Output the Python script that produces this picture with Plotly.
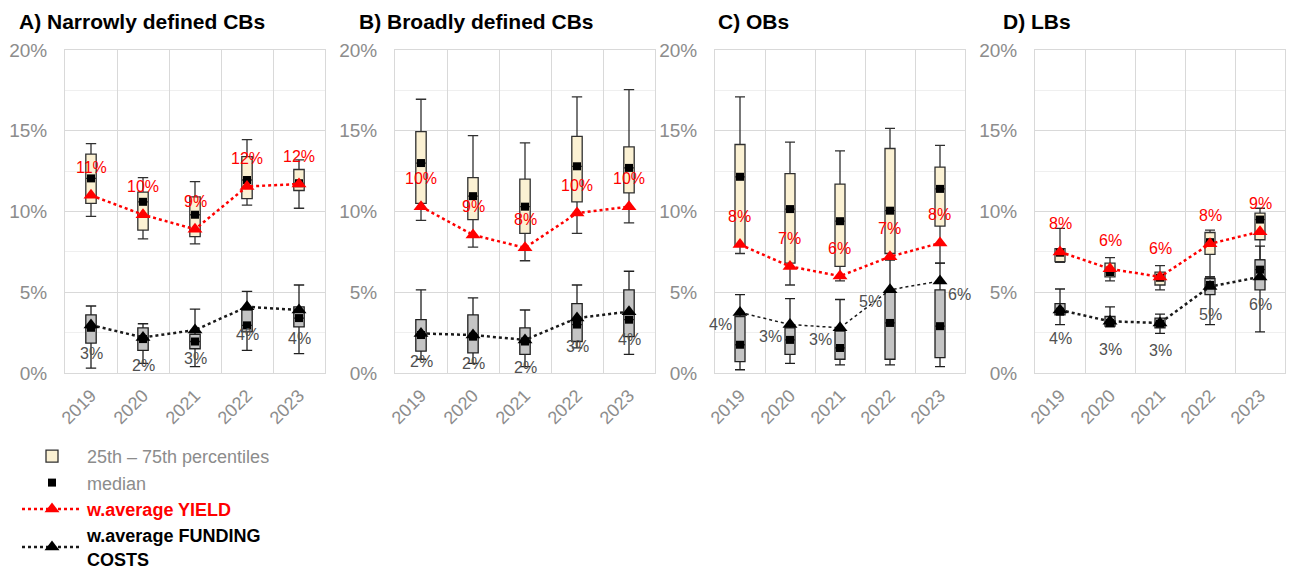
import plotly.graph_objects as go
from plotly.subplots import make_subplots

years = ["2019", "2020", "2021", "2022", "2023"]
panel_titles = ["A) Narrowly defined CBs", "B) Broadly defined CBs", "C) OBs", "D) LBs"]

# ---- Panel A: narrowly defined CBs (values in %) ----
a_yield_low = [9.7, 8.3, 8.0, 10.4, 10.2]
a_yield_q1 = [10.5, 8.85, 8.45, 10.8, 11.3]
a_yield_med = [12.05, 10.6, 9.8, 11.95, 11.75]
a_yield_q3 = [13.55, 11.2, 10.9, 13.4, 12.6]
a_yield_high = [14.2, 12.1, 11.85, 14.45, 13.2]
a_yield_wavg = [11.0, 9.8, 8.9, 11.55, 11.7]
a_fund_low = [0.3, 0.6, 0.4, 1.4, 1.2]
a_fund_q1 = [1.85, 1.4, 1.5, 2.55, 2.85]
a_fund_med = [2.8, 2.1, 1.95, 2.95, 3.4]
a_fund_q3 = [3.6, 2.8, 2.4, 3.9, 4.1]
a_fund_high = [4.15, 3.05, 3.95, 5.05, 5.45]
a_fund_wavg = [2.97, 2.2, 2.66, 4.1, 3.9]

# ---- Panel B: broadly defined CBs ----
b_yield_low = [9.45, 7.8, 6.95, 8.65, 9.3]
b_yield_q1 = [10.5, 9.5, 8.65, 10.6, 11.15]
b_yield_med = [13.0, 10.95, 10.3, 12.8, 12.7]
b_yield_q3 = [14.95, 12.1, 12.0, 14.65, 14.0]
b_yield_high = [16.95, 14.7, 14.25, 17.1, 17.55]
b_yield_wavg = [10.3, 8.55, 7.75, 9.9, 10.3]
b_fund_low = [0.85, 0.6, 0.4, 1.55, 1.15]
b_fund_q1 = [1.35, 1.25, 1.15, 1.95, 2.25]
b_fund_med = [2.35, 2.25, 1.95, 3.0, 3.3]
b_fund_q3 = [3.3, 3.6, 2.8, 4.3, 5.15]
b_fund_high = [5.15, 4.65, 3.9, 5.45, 6.3]
b_fund_wavg = [2.45, 2.35, 2.05, 3.4, 3.8]

# ---- Panel C: OBs ----
c_yield_low = [7.4, 5.45, 5.7, 7.0, 6.8]
c_yield_q1 = [7.9, 6.8, 6.6, 7.4, 9.1]
c_yield_med = [12.15, 10.15, 9.4, 10.05, 11.4]
c_yield_q3 = [14.15, 12.35, 11.7, 13.9, 12.75]
c_yield_high = [17.1, 14.3, 13.75, 15.15, 14.1]
c_yield_wavg = [7.95, 6.6, 6.0, 7.2, 8.05]
c_fund_low = [0.2, 0.6, 0.5, 0.5, 0.4]
c_fund_q1 = [0.7, 1.15, 0.85, 0.85, 0.95]
c_fund_med = [1.75, 2.05, 1.55, 3.1, 2.9]
c_fund_q3 = [3.5, 2.8, 2.6, 5.05, 5.15]
c_fund_high = [4.85, 4.6, 4.55, 7.0, 6.8]
c_fund_wavg = [3.75, 3.0, 2.8, 5.15, 5.7]

# ---- Panel D: LBs ----
d_yield_low = [6.85, 5.7, 5.15, 5.95, 7.0]
d_yield_q1 = [6.9, 5.95, 5.45, 7.35, 8.25]
d_yield_med = [7.45, 6.25, 5.9, 8.1, 9.5]
d_yield_q3 = [7.7, 6.8, 6.25, 8.7, 9.9]
d_yield_high = [8.95, 7.15, 6.65, 8.85, 10.2]
d_yield_wavg = [7.5, 6.45, 5.95, 8.0, 8.75]
d_fund_low = [3.0, 2.85, 2.45, 3.0, 2.55]
d_fund_q1 = [3.6, 2.9, 2.8, 4.85, 5.15]
d_fund_med = [3.8, 3.1, 3.05, 5.45, 6.4]
d_fund_q3 = [4.3, 3.5, 3.4, 5.85, 7.0]
d_fund_high = [5.2, 4.1, 3.65, 5.95, 7.85]
d_fund_wavg = [3.9, 3.2, 3.1, 5.35, 5.95]

panels = [
    dict(y=(a_yield_low, a_yield_q1, a_yield_med, a_yield_q3, a_yield_high, a_yield_wavg),
         f=(a_fund_low, a_fund_q1, a_fund_med, a_fund_q3, a_fund_high, a_fund_wavg)),
    dict(y=(b_yield_low, b_yield_q1, b_yield_med, b_yield_q3, b_yield_high, b_yield_wavg),
         f=(b_fund_low, b_fund_q1, b_fund_med, b_fund_q3, b_fund_high, b_fund_wavg)),
    dict(y=(c_yield_low, c_yield_q1, c_yield_med, c_yield_q3, c_yield_high, c_yield_wavg),
         f=(c_fund_low, c_fund_q1, c_fund_med, c_fund_q3, c_fund_high, c_fund_wavg)),
    dict(y=(d_yield_low, d_yield_q1, d_yield_med, d_yield_q3, d_yield_high, d_yield_wavg),
         f=(d_fund_low, d_fund_q1, d_fund_med, d_fund_q3, d_fund_high, d_fund_wavg)),
]

# ---- style / layout settings ----
W, H = 1296, 571
MB = 40                       # bottom margin (room for the legend)
PH = H - MB                   # plot-area height in px
x_domains = [(65 / W, 325 / W), (395 / W, 655 / W), (715 / W, 965 / W), (1035 / W, 1285 / W)]
y_domain = (1 - 373 / PH, 1 - 50 / PH)
title_x = [17 / W, 357 / W, 716 / W, 1001 / W]
title_y = 1 - 22 / PH
fund_label_pos = [["below"] * 5, ["below"] * 5,
                  ["left", "left", "left", "left", "right"], ["below"] * 5]
fund_line_width = [2.5, 2.5, 1.5, 2.5]

FONT = "Liberation Sans, Arial, sans-serif"
RED = "#ff0000"
GRID = "#d9d9d9"
TICK = "#8c8c8c"

fig = make_subplots(rows=1, cols=4)

for i, p in enumerate(panels):
    first = i == 0
    ylo, yq1, ymed, yq3, yhi, ywavg = p["y"]
    flo, fq1, fmed, fq3, fhi, fwavg = p["f"]
    col = i + 1
    fig.add_trace(go.Box(x=years, q1=yq1, median=ymed, q3=yq3, lowerfence=ylo, upperfence=yhi,
                         name="25th \u2013 75th percentiles", showlegend=first, legendrank=1,
                         fillcolor="#fbf1d3", line=dict(color="#303030", width=1.3),
                         width=0.2, whiskerwidth=1, boxpoints=False, hoverinfo="skip"),
                  row=1, col=col)
    fig.add_trace(go.Box(x=years, q1=fq1, median=fmed, q3=fq3, lowerfence=flo, upperfence=fhi,
                         name="funding", showlegend=False,
                         fillcolor="#c4c4c4", line=dict(color="#202020", width=1.3),
                         width=0.2, whiskerwidth=1, boxpoints=False, hoverinfo="skip"),
                  row=1, col=col)
    fig.add_trace(go.Scatter(x=years, y=ymed, mode="markers", name="median", showlegend=first,
                             legendrank=2, legendgroup="median",
                             marker=dict(symbol="square", size=8, color="black")),
                  row=1, col=col)
    fig.add_trace(go.Scatter(x=years, y=fmed, mode="markers", name="median", showlegend=False,
                             legendgroup="median",
                             marker=dict(symbol="square", size=8, color="black")),
                  row=1, col=col)
    fig.add_trace(go.Scatter(x=years, y=ywavg, mode="lines+markers",
                             name="<span style='color:#ff0000'><b>w.average YIELD</b></span>",
                             showlegend=first, legendrank=3, legendgroup="yield",
                             line=dict(color=RED, width=2.5, dash="dot"),
                             marker=dict(symbol="triangle-up", size=13, color=RED)),
                  row=1, col=col)
    fig.add_trace(go.Scatter(x=years, y=fwavg, mode="lines+markers",
                             name="<span style='color:#000000'><b>w.average FUNDING<br>COSTS</b></span>",
                             showlegend=first, legendrank=4, legendgroup="fund",
                             line=dict(color="#1a1a1a", width=fund_line_width[i], dash="dot"),
                             marker=dict(symbol="triangle-up", size=13, color="black")),
                  row=1, col=col)

    xref = "x" if i == 0 else f"x{i + 1}"
    yref = "y" if i == 0 else f"y{i + 1}"
    for j, v in enumerate(ywavg):
        fig.add_annotation(x=j, y=v, xref=xref, yref=yref, text=f"{v:.0f}%", showarrow=False,
                           yshift=28, font=dict(family=FONT, size=16, color=RED))
    for j, (v, pos) in enumerate(zip(fwavg, fund_label_pos[i])):
        if pos == "below":
            kw = dict(yshift=-28)
        elif pos == "left":
            kw = dict(xshift=-6, yshift=-12, xanchor="right")
        else:
            kw = dict(xshift=6, yshift=-14, xanchor="left")
        fig.add_annotation(x=j, y=v, xref=xref, yref=yref, text=f"{v:.0f}%", showarrow=False,
                           font=dict(family=FONT, size=16, color="#505050"), **kw)

    fig.add_annotation(x=title_x[i], y=title_y, xref="paper", yref="paper",
                       text=f"<b>{panel_titles[i]}</b>",
                       showarrow=False, xanchor="left", yanchor="middle",
                       font=dict(family=FONT, size=21, color="black"))

    xa = "xaxis" if i == 0 else f"xaxis{i + 1}"
    ya = "yaxis" if i == 0 else f"yaxis{i + 1}"
    fig.layout[xa].update(domain=list(x_domains[i]), type="category", categoryorder="array",
                          categoryarray=years, range=[-0.5, 4.5], tickson="boundaries",
                          showgrid=True, gridcolor=GRID, gridwidth=1, showline=True, mirror=True,
                          linecolor=GRID, ticks="", tickangle=-45, ticklabelstandoff=4,
                          automargin=False,
                          tickfont=dict(family=FONT, size=18, color=TICK))
    fig.layout[ya].update(domain=list(y_domain), range=[0, 20], dtick=5, ticksuffix="%",
                          showgrid=True, gridcolor=GRID, gridwidth=1, zeroline=False,
                          showline=True, mirror=True, linecolor=GRID, ticks="",
                          ticklabelstandoff=13, automargin=False,
                          minor=dict(dtick=2.5, showgrid=True, gridcolor="#efefef"),
                          tickfont=dict(family=FONT, size=19, color=TICK))

fig.update_layout(
    width=W, height=H, margin=dict(l=0, r=0, t=0, b=MB, autoexpand=False),
    paper_bgcolor="white", plot_bgcolor="white",
    boxmode="overlay",
    font=dict(family=FONT, color=TICK),
    legend=dict(x=17 / W, y=1 - 438 / PH, xanchor="left", yanchor="top", itemwidth=60,
                font=dict(family=FONT, size=18, color=TICK), tracegroupgap=0,
                bgcolor="rgba(0,0,0,0)"),
)

fig.write_html("out.html")
